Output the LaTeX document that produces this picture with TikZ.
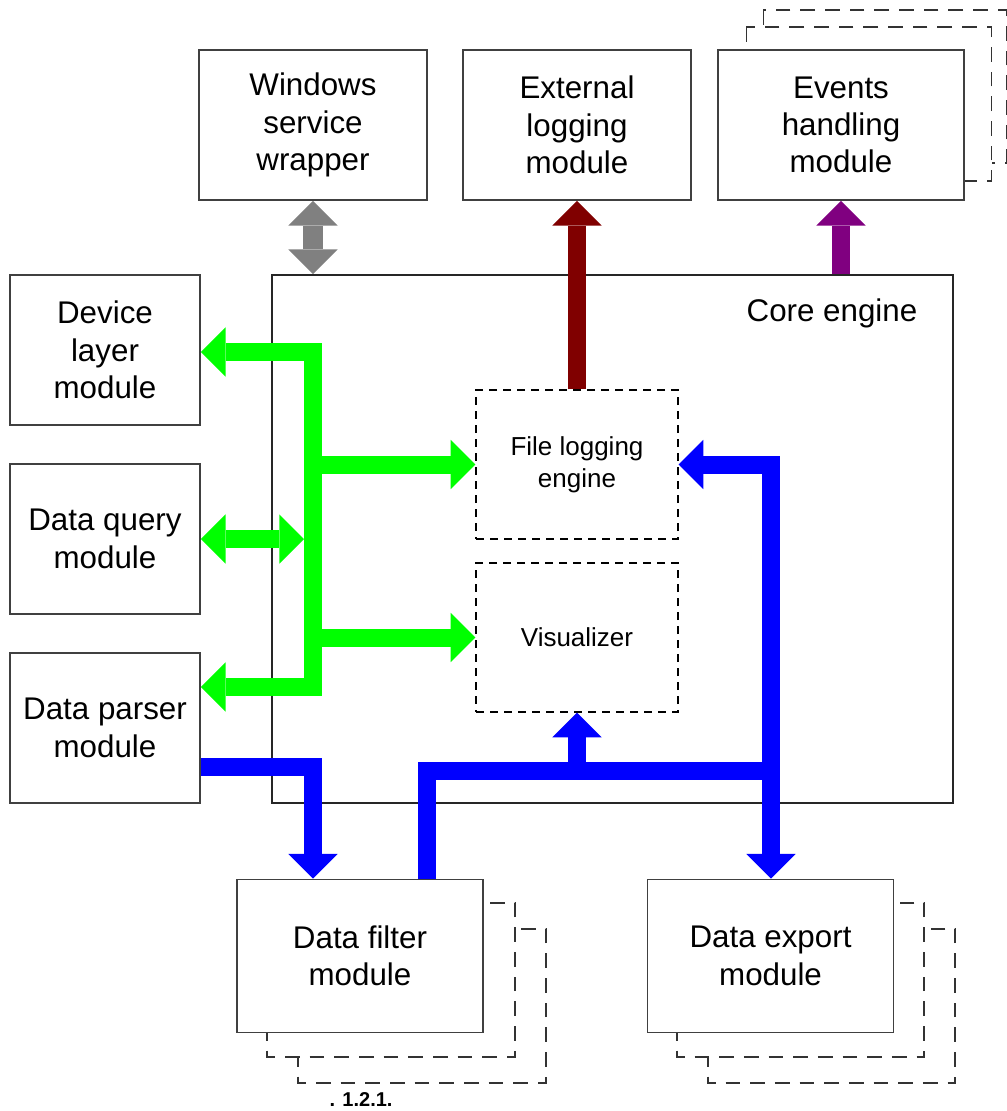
\documentclass[tikz,border=0pt]{standalone}
\usepackage{fontspec}
\setmainfont{Liberation Sans}
\usetikzlibrary{arrows.meta}
\pgfdeclarelayer{back}
\pgfsetlayers{back,main}

\definecolor{busgreen}{HTML}{00FF00}
\definecolor{busblue}{HTML}{0000FF}
\definecolor{logred}{HTML}{800000}
\definecolor{evpurple}{HTML}{800080}
\definecolor{wrapgray}{HTML}{808080}

\begin{document}
\begin{tikzpicture}[x=0.75pt,y=-0.75pt,
    >={Triangle[width=37pt,length=18.5pt,line width=0pt]},
    module/.style={draw=black!75, line width=1.3pt, fill=white, align=center,
        inner sep=0pt, minimum width=171pt, minimum height=112.5pt,
        font=\fontsize{23.5}{28}\selectfont},
    inner/.style={draw=black, line width=1.1pt, dash pattern=on 6pt off 4.5pt,
        fill=white, align=center, minimum width=151.5pt, minimum height=111.75pt,
        font=\fontsize{19.5}{24}\selectfont},
    stack/.style={draw=black!80, line width=1.4pt, dash pattern=on 11pt off 7.5pt, fill=white},
    fat/.style={line width=13.5pt, line join=miter}]

    \useasboundingbox (0,0) rectangle (1007,1111);

    % core
    \node[draw=black!85, line width=1.3pt, fill=white, minimum width=510.75pt,
          minimum height=396pt] (core) at (612.5,539) {};
    \node[font=\fontsize{23.5}{28}\selectfont] (corelabel) at (832,313) {Core engine};

    % top row
    \node[module]                       (win)    at (313,125) {Windows\\service\\wrapper};
    \node[module, node distance=198pt]  (extlog) [right of=win] {External\\logging\\module};
    \node[module, node distance=198pt, minimum width=184pt]
                                        (events) [right of=extlog] {Events\\handling\\module};

    % left column
    \node[module, minimum width=142.5pt] (device) at (105,350) {Device\\layer\\module};
    \node[module, minimum width=142.5pt, node distance=141.75pt]
                                         (query)  [below of=device] {Data query\\module};
    \node[module, minimum width=142.5pt, node distance=141.75pt]
                                         (parser) [below of=query] {Data parser\\module};

    % inside the core
    \node[inner]                         (filelog) at (577,464.5) {File logging\\engine};
    \node[inner, node distance=129.75pt] (vis)     [below of=filelog] {Visualizer};

    % bottom row
    \node[module, minimum width=184.5pt, minimum height=114.75pt]
                                         (filter) at (360,956) {Data filter\\module};
    \node[module, minimum width=184.5pt, minimum height=114.75pt, node distance=307.9pt]
                                         (export) [right of=filter] {Data export\\module};

    \node[font=\fontsize{15}{18}\selectfont\bfseries] (fignum) at (361,1100) {. 1.2.1.};

    % stacked copies
    \begin{pgfonlayer}{back}
        \draw[stack] ([shift={(62,50)}]filter.north west) rectangle ([shift={(62,50)}]filter.south east);
        \draw[stack] ([shift={(31,24)}]filter.north west) rectangle ([shift={(31,24)}]filter.south east);
        \draw[stack] ([shift={(61,50)}]export.north west) rectangle ([shift={(61,50)}]export.south east);
        \draw[stack] ([shift={(30,24)}]export.north west) rectangle ([shift={(30,24)}]export.south east);
        \draw[stack] ([shift={(46,-39)}]events.north west) rectangle ([shift={(42,-38)}]events.south east);
        \draw[stack] ([shift={(29,-22)}]events.north west) rectangle ([shift={(27,-20)}]events.south east);
    \end{pgfonlayer}

    \coordinate (gtop) at (313,352);
    \coordinate (gbot) at (313,687);
    \coordinate (b1) at (313,767);
    \coordinate (b2) at (427,771);
    \coordinate (b3) at (771,771);

    % green links
    \draw[fat, busgreen, <->] (device.east |- gtop) -- (gtop) -- (gbot) -- (parser.east |- gbot);
    \draw[fat, busgreen, ->] (gtop |- filelog.west) -- (filelog.west);
    \draw[fat, busgreen, ->] (gtop |- vis.west) -- (vis.west);
    \draw[fat, busgreen, <->] (query.east) -- ([xshift=-6.75pt]gtop |- query.east);

    % blue links
    \draw[fat, busblue, ->] (parser.east |- b1) -- (b1) -- (b1 |- filter.north);
    \draw[fat, busblue] (b2 |- filter.north) -- (b2) -- (b3);
    \draw[fat, busblue, ->] (vis.south |- b2) -- (vis.south);
    \draw[fat, busblue, <->] (filelog.east) -- (filelog.east -| b3) -- (b3 |- export.north);

    % outgoing links
    \draw[fat, logred, ->] (filelog.north) -- (extlog.south);
    \draw[fat, evpurple, ->] (core.north -| events.south) -- (events.south);
    \draw[fat, wrapgray, line width=15pt, <->] (core.north -| win.south) -- (win.south);
\end{tikzpicture}
\end{document}
